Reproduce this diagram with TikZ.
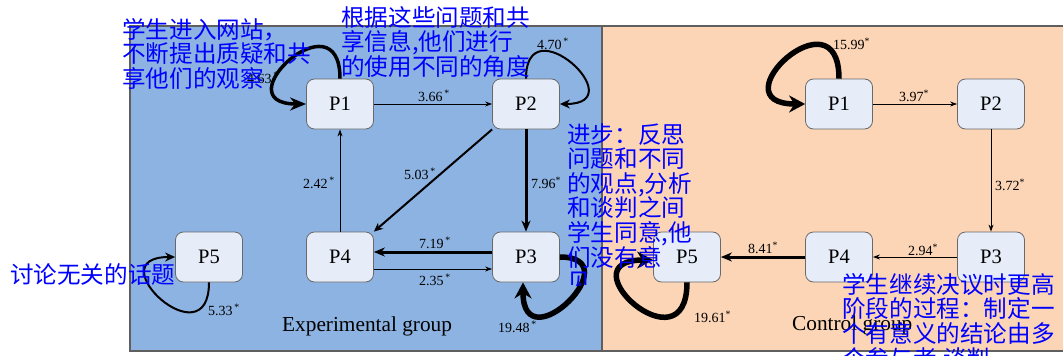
\documentclass[tikz,border=0pt]{standalone}
\usepackage{fontspec}
\setmainfont{Liberation Serif}
\newfontfamily\cjk{Noto Sans CJK SC}
\usetikzlibrary{arrows.meta}
\definecolor{expbg}{RGB}{141,179,226}
\definecolor{ctlbg}{RGB}{251,213,181}
\definecolor{nodefill}{RGB}{230,236,248}
\definecolor{nodeline}{RGB}{105,105,105}
\definecolor{panelline}{RGB}{95,95,95}
\definecolor{notecol}{RGB}{0,0,255}
\newcommand{\sgst}{\textsuperscript{\,*}}
\begin{document}
\begin{tikzpicture}[x=1pt,y=-1pt,
  pnode/.style={draw=nodeline,fill=nodefill,rounded corners=8pt,minimum width=67pt,minimum height=50pt,inner sep=0pt,line width=0.8pt,font=\fontsize{20.5}{21}\selectfont},
  lbl/.style={anchor=west,inner sep=0pt,font=\fontsize{14}{14}\selectfont},
  ttl/.style={anchor=west,inner sep=0pt,font=\fontsize{21.3}{22}\selectfont},
  notetext/.style={anchor=north west,inner sep=0pt,align=left,text=notecol,font=\cjk\fontsize{23.6}{24.6}\selectfont},
  thinarr/.style={line width=1pt,-{Stealth[length=7pt,width=5pt]}},
  midarr/.style={line width=2pt,-{Stealth[length=9pt,width=8pt]}},
  thickarr/.style={line width=3pt,-{Stealth[length=11pt,width=9pt]}},
  loopmid/.style={line width=2pt,-{Stealth[length=10pt,width=9pt]}},
  loopthick/.style={line width=3.5pt,-{Stealth[length=16pt,width=13pt]}},
  loopvthick/.style={line width=5.5pt,-{Stealth[length=16pt,width=17pt]}},
]
\fill[white] (0,0) rectangle (1063,356);
\useasboundingbox (0,0) rectangle (1063,356);
% panels
\draw[panelline,line width=1.5pt,fill=expbg] (130,26) rectangle (602,351);
\draw[panelline,line width=1.5pt,fill=ctlbg] (602,26) rectangle (1070,351);

% experimental group nodes
\node[pnode] (e1) at (340,104) {P1};
\node[pnode] (e2) at (526,104) {P2};
\node[pnode] (e3) at (526,257) {P3};
\node[pnode] (e4) at (340,257) {P4};
\node[pnode] (e5) at (209,257) {P5};

% control group nodes
\node[pnode] (c1) at (839,104) {P1};
\node[pnode] (c2) at (991,104) {P2};
\node[pnode] (c3) at (991,257) {P3};
\node[pnode] (c4) at (839,257) {P4};
\node[pnode] (c5) at (687,257) {P5};

% experimental edges
\draw[thinarr] (e1) -- (e2);
\draw[thinarr] (e4) -- (e1);
\draw[thickarr] (e2) -- (e3);
\draw[midarr] (e2.south west) -- (e4.north east);
\draw[thickarr] ([yshift=5pt]e3.west) -- ([yshift=5pt]e4.east);
\draw[thinarr] ([yshift=-12pt]e4.east) -- ([yshift=-12pt]e3.west);
\draw[loopthick] (e1.north) .. controls +(0,-85) and +(-85,0) .. (e1.west);
\draw[loopmid] (e2.north) .. controls +(0,-75) and +(75,0) .. (e2.east);
\draw[loopvthick] (e3.east) .. controls +(72,0) and +(0,82) .. ([xshift=-3pt]e3.south);
\draw[loopmid] (e5.south) .. controls +(0,80) and +(-80,0) .. (e5.west);

% control edges
\draw[thinarr] (c1) -- (c2);
\draw[thinarr] (c2) -- (c3);
\draw[thinarr] (c3) -- (c4);
\draw[thickarr] (c4) -- (c5);
\draw[loopvthick] (c1.north) .. controls +(0,-90) and +(-90,0) .. (c1.west);
\draw[loopvthick] (c5.south) .. controls +(0,90) and +(-90,0) .. ([yshift=-3pt]c5.west);

% experimental labels
\node[lbl] (le11) at (247,78) {4.63\sgst};
\node[lbl] (le12) at (418,96) {3.66\sgst};
\node[lbl] (le22) at (537,44) {4.70\sgst};
\node[lbl] (le23) at (531,183) {7.96\textsuperscript{*}};
\node[lbl] (le24) at (404,174) {5.03\sgst};
\node[lbl] (le41) at (303,183) {2.42\sgst};
\node[lbl] (le34) at (419,243) {7.19\sgst};
\node[lbl] (le43) at (419,280) {2.35\sgst};
\node[lbl] (le55) at (208,310) {5.33\sgst};
\node[lbl] (le33) at (498,327) {19.48\sgst};
\node[ttl] (etitle) at (282,326) {Experimental group};

% control labels
\node[lbl] (lc11) at (833,44) {15.99\textsuperscript{*}};
\node[lbl] (lc12) at (899,96) {3.97\textsuperscript{*}};
\node[lbl] (lc23) at (995,185) {3.72\textsuperscript{*}};
\node[lbl] (lc34) at (908,250) {2.94\textsuperscript{*}};
\node[lbl] (lc45) at (748,248) {8.41\textsuperscript{*}};
\node[lbl] (lc55) at (694,317) {19.61\textsuperscript{*}};
\node[ttl] (ctitle) at (792,325) {Control group};

% annotations
\node[notetext] (n1) at (122,18) {学生进入网站，\\不断提出质疑和共\\享他们的观察};
\node[notetext] (n2) at (341,6) {根据这些问题和共\\享信息,他们进行\\的使用不同的角度};
\begin{scope}
\clip (560,100) rectangle (700,285);
\node[notetext] (n3) at (567,123) {进步：反思\\问题和不同\\的观点,分析\\和谈判之间\\学生同意,他\\们没有意\\见};
\end{scope}
\node[notetext] (n4) at (842,273) {学生继续决议时更高\\阶段的过程：制定一\\个有意义的结论由多\\个参与者,谈判};
\node[notetext] (n5) at (10,263) {讨论无关的话题};
\end{tikzpicture}
\end{document}
